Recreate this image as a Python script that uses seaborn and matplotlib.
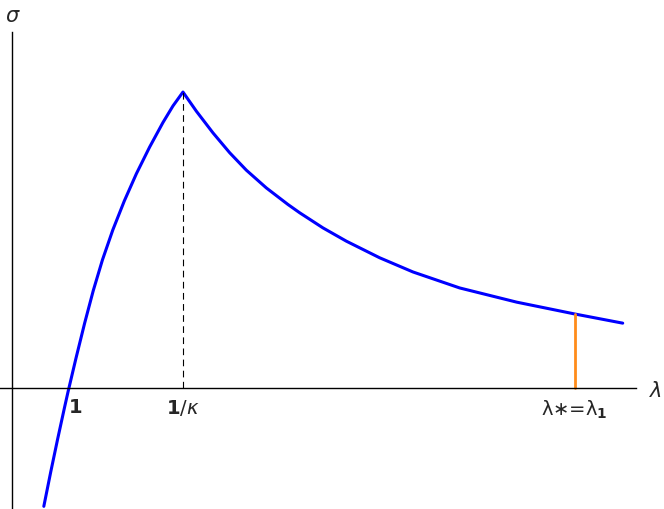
import numpy as np
import pandas as pd
import seaborn as sns
import matplotlib.pyplot as plt

# curve points (lambda, sigma)
lam = [0.79, 0.85, 0.91, 0.97, 1.0, 1.07, 1.145, 1.22, 1.30, 1.39, 1.49, 1.595,
       1.71, 1.826, 1.913, 2.0,
       2.117, 2.261, 2.406, 2.551, 2.725, 2.913, 3.015, 3.217, 3.421, 3.71, 4.0,
       4.406, 4.902, 5.407, 5.824]
sig = [-0.40, -0.284, -0.173, -0.066, -0.014, 0.101, 0.219, 0.329, 0.433, 0.534,
       0.632, 0.724, 0.814, 0.897, 0.953, 1.0,
       0.935, 0.862, 0.795, 0.736, 0.676, 0.620, 0.592, 0.541, 0.496, 0.440, 0.392,
       0.338, 0.29, 0.25, 0.219]
peak_lam = 2.0
peak_sig = 1.0
star_lam = 5.407
star_sig = 0.25
tick_pos = [1, 2]

sns.set_style("white")
fig = plt.figure(figsize=(6.64, 5.09), dpi=100)
ax = fig.add_axes([0, 0, 1, 1])

df = pd.DataFrame({"lam": lam, "sig": sig})
sns.lineplot(data=df, x="lam", y="sig", sort=False, color="#0000ff", lw=2.2, ax=ax)
ax.plot([peak_lam, peak_lam], [0, peak_sig], color="black", lw=0.8, ls=(0, (6, 4)))
ax.plot([star_lam, star_lam], [0, star_sig], color="#ff8c1a", lw=2.0)

ax.set_xlim(0.409, 6.183)
ax.set_ylim(-0.409, 1.311)

for s in ["top", "right"]:
    ax.spines[s].set_visible(False)
ax.spines["left"].set_position(("data", 0.513))
ax.spines["left"].set_bounds(-0.409, 1.203)
ax.spines["bottom"].set_position(("data", 0))
ax.spines["bottom"].set_bounds(0.409, 5.939)
for s in ["left", "bottom"]:
    ax.spines[s].set_color("black")
    ax.spines[s].set_linewidth(1.0)

ax.set_xticks(tick_pos)
ax.set_xticklabels([])
ax.set_yticks([])
ax.tick_params(axis="x", direction="in", length=4, width=1, color="black")
ax.set_xlabel("")
ax.set_ylabel("")

ax.text(1.01, -0.035, "1", fontsize=14, fontweight="bold", ha="left", va="top")
ax.text(2.0, -0.035, r"$\mathbf{1}/\kappa$", fontsize=14, ha="center", va="top")
ax.text(star_lam, -0.035, "λ∗=λ" + r"$_\mathbf{1}$", fontsize=14,
        ha="center", va="top")
ax.text(6.05, -0.01, r"$\lambda$", fontsize=15, ha="left", va="center")
ax.text(0.45, 1.29, r"$\sigma$", fontsize=15, ha="left", va="top")

fig.savefig("out.png", dpi=100)
